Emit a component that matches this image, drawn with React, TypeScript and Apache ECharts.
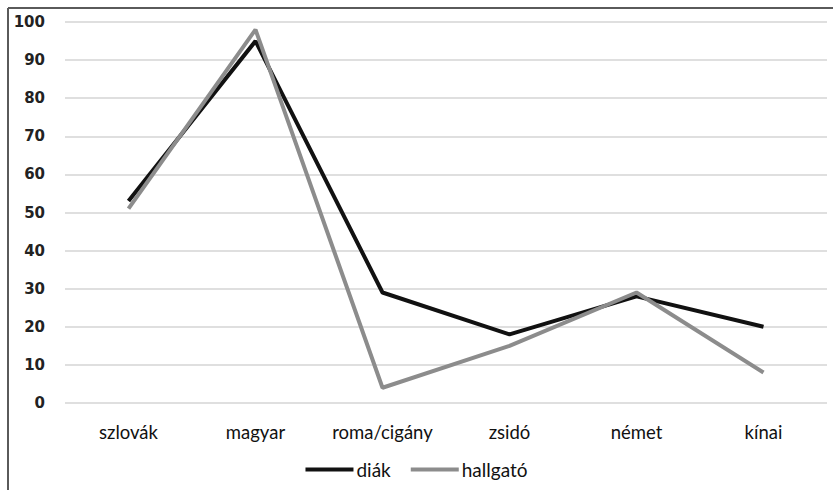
import React, { useEffect, useRef } from "react";
import * as echarts from "echarts";

const categories = ["szlovák", "magyar", "roma/cigány", "zsidó", "német", "kínai"];
const diak = [53, 95, 29, 18, 28, 20];
const hallgato = [51, 98, 4, 15, 29, 8];
const yTicks = { min: 0, max: 100, interval: 10 };

export default function App() {
  const ref = useRef<HTMLDivElement>(null);
  useEffect(() => {
    if (!ref.current) return;
    const chart = echarts.init(ref.current, null, { renderer: "svg" });
    chart.setOption({
      animation: false,
      backgroundColor: "#ffffff",
      graphic: [
        { type: "line", shape: { x1: 8, y1: 8, x2: 833, y2: 8 }, style: { stroke: "#5a5a5a", lineWidth: 2 } },
        { type: "line", shape: { x1: 8, y1: 8, x2: 8, y2: 490 }, style: { stroke: "#5a5a5a", lineWidth: 2 } },
      ],
      grid: { left: 65, right: 6, top: 22, bottom: 87 },
      legend: {
        top: 455,
        left: "center",
        itemWidth: 48,
        itemHeight: 4,
        itemGap: 20,
        icon: "rect",
        textStyle: { fontFamily: "Lato, 'Open Sans', sans-serif", fontSize: 19, color: "#111", padding: [0, 0, 0, -2] },
        data: ["diák", "hallgató"],
      },
      xAxis: {
        type: "category",
        data: categories,
        boundaryGap: true,
        axisLine: { show: false },
        axisTick: { show: false },
        axisLabel: { interval: 0, hideOverlap: false, fontFamily: "Lato, 'Open Sans', sans-serif", fontSize: 18.5, color: "#111", margin: 19 },
      },
      yAxis: {
        type: "value",
        min: yTicks.min,
        max: yTicks.max,
        interval: yTicks.interval,
        axisLine: { show: false },
        axisTick: { show: false },
        splitLine: { lineStyle: { color: "#d4d4d4", width: 1.5 } },
        axisLabel: { fontFamily: "'DejaVu Sans', sans-serif", fontSize: 15, fontWeight: "bold", color: "#222", margin: 20 },
      },
      series: [
        {
          name: "diák",
          type: "line",
          data: diak,
          showSymbol: false,
          symbol: "none",
          lineStyle: { color: "#111111", width: 4 },
          itemStyle: { color: "#111111" },
        },
        {
          name: "hallgató",
          type: "line",
          data: hallgato,
          showSymbol: false,
          symbol: "none",
          lineStyle: { color: "#8c8c8c", width: 4 },
          itemStyle: { color: "#8c8c8c" },
        },
      ],
    });
    return () => chart.dispose();
  }, []);
  return (
    <div
      ref={ref}
      style={{ position: "fixed", left: 0, top: 0, width: 833, height: 490 }}
    />
  );
}
